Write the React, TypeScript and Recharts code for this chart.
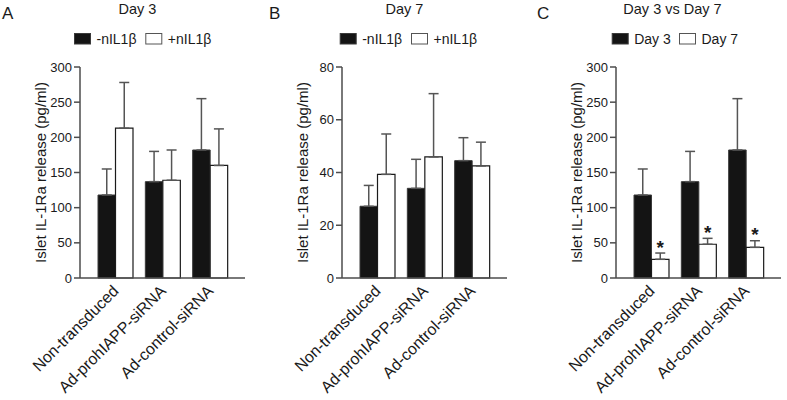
import React from "react";
import { BarChart, Bar, XAxis, YAxis, ErrorBar, LabelList } from "recharts";

const FONT = '"Liberation Sans", Arial, Helvetica, sans-serif';
const INK = "#1a1a1a";
const AXIS = "#4d4d4d";

const CATEGORIES = ["Non-transduced", "Ad-prohIAPP-siRNA", "Ad-control-siRNA"];

// A: day 3
const D3_MINUS = [118, 137, 182];
const D3_MINUS_SEM = [37, 43, 73];
const D3_PLUS = [213, 139, 160];
const D3_PLUS_SEM = [65, 43, 52];

// B: day 7
const D7_MINUS = [27.2, 34, 44.5];
const D7_MINUS_SEM = [7.9, 11, 8.7];
const D7_PLUS = [39.3, 45.9, 42.5];
const D7_PLUS_SEM = [15.3, 24, 9];

// C: day 3 vs day 7
const C_DAY3 = [118, 137, 182];
const C_DAY3_SEM = [37, 43, 73];
const C_DAY7 = [26.6, 48, 43.6];
const C_DAY7_SEM = [8.9, 8.4, 9.4];
const C_STAR = ["*", "*", "*"];

const TICKS_300 = [0, 50, 100, 150, 200, 250, 300];
const TICKS_80 = [0, 20, 40, 60, 80];

const Y_LABEL = "Islet IL-1Ra release (pg/ml)";

function rows(a: number[], aSem: number[], b: number[], bSem: number[], stars?: string[]) {
  return CATEGORIES.map((name, i) => ({
    name,
    a: a[i],
    aErr: [0, aSem[i]],
    b: b[i],
    bErr: [0, bSem[i]],
    star: stars ? stars[i] : "",
    bSem: bSem[i],
  }));
}

const CatTick = (props: any) => {
  const { x, y, payload } = props;
  const tx = x + 4;
  const ty = y + 6;
  return (
    <text
      x={tx}
      y={ty}
      transform={`rotate(-45 ${tx} ${ty})`}
      textAnchor="end"
      fontSize={16}
      fontFamily={FONT}
      fill={INK}
    >
      {payload.value}
    </text>
  );
};

const YLabel = (props: any) => {
  const vb = props.viewBox || {};
  const cx = 46;
  const cy = vb.y + vb.height / 2;
  return (
    <text
      x={cx}
      y={cy}
      transform={`rotate(-90 ${cx} ${cy})`}
      textAnchor="middle"
      fontSize={15}
      fontFamily={FONT}
      fill={INK}
    >
      {Y_LABEL}
    </text>
  );
};

const Star = (props: any) => {
  const { x, y, width, height, value, index, data } = props;
  const row = data[index];
  if (!row.star) return null;
  const top = y - (row.bSem / value) * height;
  return (
    <text
      x={x + width / 2}
      y={top + 0.5}
      textAnchor="middle"
      fontSize={19}
      fontWeight="bold"
      fontFamily={FONT}
      fill={INK}
    >
      {row.star}
    </text>
  );
};

type PanelProps = {
  left: number;
  width: number;
  data: any[];
  max: number;
  ticks: number[];
};

function Panel({ left, width, data, max, ticks }: PanelProps) {
  return (
    <div style={{ position: "absolute", left, top: 0 }}>
      <BarChart
        width={width}
        height={400}
        data={data}
        margin={{ top: 67, right: width - 245, left: 30, bottom: 0 }}
        barSize={17.5}
        barGap={0}
      >
        <XAxis
          dataKey="name"
          height={122}
          tickLine={false}
          axisLine={{ stroke: AXIS, strokeWidth: 1.5 }}
          tick={<CatTick />}
          interval={0}
          padding={{ left: 12, right: 11 }}
        />
        <YAxis
          width={50}
          domain={[0, max]}
          ticks={ticks}
          interval={0}
          tickSize={6}
          tickMargin={2}
          axisLine={{ stroke: AXIS, strokeWidth: 1.5 }}
          tickLine={{ stroke: AXIS, strokeWidth: 1.5 }}
          tick={{ fontSize: 13, fontFamily: FONT, fill: INK }}
          label={<YLabel />}
        />
        <Bar dataKey="a" fill="#141414" stroke="#3a3a3a" strokeWidth={1} isAnimationActive={false}>
          <ErrorBar dataKey="aErr" width={5} stroke="#555" strokeWidth={1.5} direction="y" />
        </Bar>
        <Bar dataKey="b" fill="#ffffff" stroke={INK} strokeWidth={1.2} isAnimationActive={false}>
          <ErrorBar dataKey="bErr" width={5} stroke="#555" strokeWidth={1.5} direction="y" />
          <LabelList dataKey="b" content={<Star data={data} />} />
        </Bar>
      </BarChart>
    </div>
  );
}

const TITLES = [
  { letter: "A", lx: 2, title: "Day 3", cx: 137.5 },
  { letter: "B", lx: 269, title: "Day 7", cx: 404.5 },
  { letter: "C", lx: 537, title: "Day 3 vs Day 7", cx: 672.5 },
];

const LEGENDS = [
  { x: 74, names: ["-nIL1β", "+nIL1β"], step: 71.3 },
  { x: 339.7, names: ["-nIL1β", "+nIL1β"], step: 71.3 },
  { x: 611.7, names: ["Day 3", "Day 7"], step: 67.3 },
];

export default function App() {
  const dataA = rows(D3_MINUS, D3_MINUS_SEM, D3_PLUS, D3_PLUS_SEM);
  const dataB = rows(D7_MINUS, D7_MINUS_SEM, D7_PLUS, D7_PLUS_SEM);
  const dataC = rows(C_DAY3, C_DAY3_SEM, C_DAY7, C_DAY7_SEM, C_STAR);

  return (
    <div style={{ position: "absolute", left: 0, top: 0, width: 787, height: 400, background: "#fff", fontFamily: FONT }}>
      <Panel left={0} width={262} data={dataA} max={300} ticks={TICKS_300} />
      <Panel left={262} width={262} data={dataB} max={80} ticks={TICKS_80} />
      <Panel left={536} width={251} data={dataC} max={300} ticks={TICKS_300} />
      <svg width={787} height={400} style={{ position: "absolute", left: 0, top: 0, pointerEvents: "none" }}>
        {TITLES.map((t) => (
          <g key={t.letter}>
            <text x={t.lx} y={18.5} fontSize={17} fontFamily={FONT} fill={INK}>
              {t.letter}
            </text>
            <text x={t.cx} y={13.5} fontSize={14.5} textAnchor="middle" fontFamily={FONT} fill={INK}>
              {t.title}
            </text>
          </g>
        ))}
        {LEGENDS.map((l, i) => (
          <g key={i}>
            {l.names.map((n, j) => {
              const sx = l.x + j * l.step;
              return (
                <g key={n}>
                  <rect
                    x={sx + 0.5}
                    y={33.5}
                    width={16}
                    height={10.5}
                    fill={j === 0 ? "#141414" : "#fff"}
                    stroke={j === 0 ? "#3a3a3a" : "#555"}
                    strokeWidth={1}
                  />
                  <text x={sx + 22.5} y={44} fontSize={14} fontFamily={FONT} fill={INK}>
                    {n}
                  </text>
                </g>
              );
            })}
          </g>
        ))}
      </svg>
    </div>
  );
}
